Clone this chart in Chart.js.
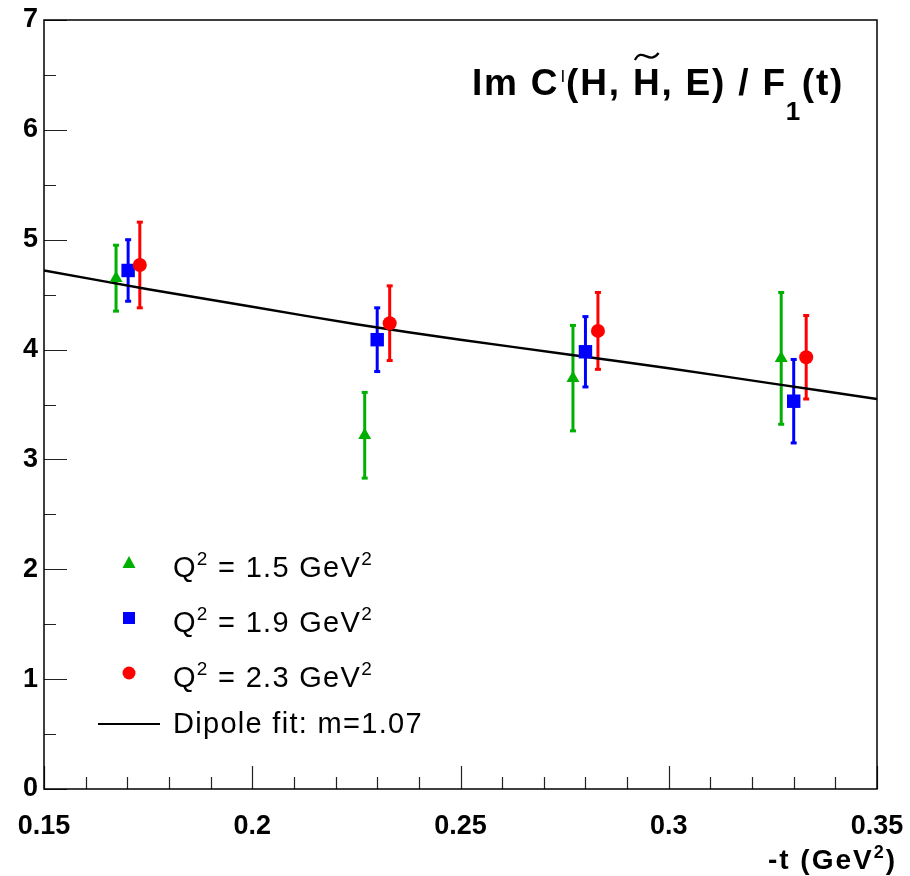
<!DOCTYPE html>
<html>
<head>
<meta charset="utf-8">
<script src="https://cdn.jsdelivr.net/npm/chart.js@4.4.1/dist/chart.umd.min.js"></script>
<style>
html, body { margin: 0; padding: 0; background: #fff; }
#wrap { width: 910px; height: 876px; position: relative; }
</style>
</head>
<body>
<div id="wrap"><canvas id="chart"></canvas></div>
<script>
const xTicks = [0.15, 0.2, 0.25, 0.3, 0.35];
const yTicks = [0, 1, 2, 3, 4, 5, 6, 7];

// Q2 = 1.5 GeV2
const tQ15 = [0.1673, 0.2270, 0.2770, 0.3270];
const vQ15 = [4.65, 3.22, 3.74, 3.92];
const eQ15 = [0.30, 0.39, 0.48, 0.60];
// Q2 = 1.9 GeV2
const tQ19 = [0.1702, 0.2300, 0.2800, 0.3300];
const vQ19 = [4.72, 4.09, 3.98, 3.53];
const eQ19 = [0.28, 0.29, 0.32, 0.38];
// Q2 = 2.3 GeV2
const tQ23 = [0.1730, 0.2330, 0.2830, 0.3330];
const vQ23 = [4.77, 4.24, 4.17, 3.93];
const eQ23 = [0.39, 0.34, 0.35, 0.38];
// dipole fit curve
const tFit = [0.15, 0.175, 0.2, 0.225, 0.25, 0.275, 0.3, 0.325, 0.35];
const vFit = [4.72, 4.55, 4.39, 4.23, 4.09, 3.96, 3.83, 3.69, 3.55];

const GREEN = '#00b000', BLUE = '#0000ff', RED = '#ff0000';
const FONT = '"Liberation Sans", Arial, Helvetica, sans-serif';

function pts(xs, ys, es) {
    return xs.map((x, i) => ({x: x, y: ys[i], e: es ? es[i] : 0}));
}

// draws a list of [text, px, dy, weight] pieces, returns end x
function rich(ctx, x, y, parts, spacing, alignRight) {
    ctx.letterSpacing = (spacing || 0) + 'px';
    let w = 0;
    parts.forEach(p => { ctx.font = (p[3] || 'normal') + ' ' + p[1] + 'px ' + FONT; w += ctx.measureText(p[0]).width; });
    if (alignRight) x -= w;
    ctx.textBaseline = 'alphabetic';
    ctx.textAlign = 'left';
    parts.forEach(p => {
        ctx.font = (p[3] || 'normal') + ' ' + p[1] + 'px ' + FONT;
        ctx.fillText(p[0], x, y + (p[2] || 0));
        x += ctx.measureText(p[0]).width;
    });
    ctx.letterSpacing = '0px';
    return x;
}

const rootStuff = {
    id: 'rootStuff',
    beforeDatasetsDraw(chart) {
        const ctx = chart.ctx, xs = chart.scales.x, ys = chart.scales.y;
        ctx.save();
        // error bars
        chart.data.datasets.forEach(ds => {
            if (!ds.errBars) return;
            ctx.strokeStyle = ds.borderColor;
            ctx.fillStyle = ds.borderColor;
            ctx.lineWidth = 3;
            ds.data.forEach(p => {
                const px = xs.getPixelForValue(p.x);
                const top = ys.getPixelForValue(p.y + p.e);
                const bot = ys.getPixelForValue(p.y - p.e);
                ctx.beginPath();
                ctx.moveTo(px, top);
                ctx.lineTo(px, bot);
                ctx.stroke();
                ctx.fillRect(px - 3, top - 1.5, 6, 3);
                ctx.fillRect(px - 3, bot - 1.5, 6, 3);
            });
        });
        ctx.restore();
    },
    afterDraw(chart) {
        const ctx = chart.ctx, a = chart.chartArea, xs = chart.scales.x, ys = chart.scales.y;
        ctx.save();
        // ticks inside the frame
        ctx.strokeStyle = '#222';
        ctx.lineWidth = 1.2;
        ctx.beginPath();
        for (let k = 0; k <= 20; k++) {
            const px = Math.round(xs.getPixelForValue(0.15 + k * 0.01)) + 0.5;
            const len = (k % 5 === 0) ? 23 : 12;
            ctx.moveTo(px, a.bottom);
            ctx.lineTo(px, a.bottom - len);
        }
        for (let k = 0; k <= 14; k++) {
            const py = Math.round(ys.getPixelForValue(k * 0.5)) + 0.5;
            const len = (k % 2 === 0) ? 23 : 12;
            ctx.moveTo(a.left, py);
            ctx.lineTo(a.left + len, py);
        }
        ctx.stroke();
        // frame
        ctx.strokeStyle = '#000';
        ctx.lineWidth = 1.5;
        ctx.strokeRect(a.left, a.top, a.right - a.left, a.bottom - a.top);

        ctx.fillStyle = '#000';
        // title
        let x = rich(ctx, 472, 95, [['Im C', 37, 0, 'bold']], 1.8);
        x = rich(ctx, x + 1, 95, [['I', 17, -13, 'normal']]);
        x = rich(ctx, x + 1, 95, [['(H, ', 37, 0, 'bold']], 1.8);
        const hx = x;
        x = rich(ctx, x, 95, [['H', 37, 0, 'bold']], 1.8);
        // tilde over the H
        const tw = x - hx - 1.8;
        ctx.strokeStyle = '#000';
        ctx.lineWidth = 2.2;
        ctx.beginPath();
        ctx.moveTo(hx + 2, 60);
        ctx.bezierCurveTo(hx + tw * 0.35, 46, hx + tw * 0.6, 66, hx + tw - 1, 53);
        ctx.stroke();
        x = rich(ctx, x, 95, [[', E) / F', 37, 0, 'bold']], 1.8);
        rich(ctx, x - 1, 95, [['1', 26, 25, 'bold']]);
        rich(ctx, x + 15, 95, [['(t)', 37, 0, 'bold']], 1.8);

        // x axis title
        rich(ctx, 897, 869, [['-t (GeV', 28, 0, 'bold'], ['2', 18, -11, 'bold'], [')', 28, 0, 'bold']], 2, true);

        // legend
        const rows = [
            {y: 577, label: '1.5', color: GREEN, shape: 'tri'},
            {y: 632, label: '1.9', color: BLUE, shape: 'sq'},
            {y: 687, label: '2.3', color: RED, shape: 'circ'}
        ];
        rows.forEach(r => {
            const my = r.y - 14;
            ctx.fillStyle = r.color;
            ctx.beginPath();
            if (r.shape === 'tri') {
                ctx.moveTo(129, my - 7); ctx.lineTo(135.5, my + 5); ctx.lineTo(122.5, my + 5);
            } else if (r.shape === 'sq') {
                ctx.rect(123, my - 6, 12, 12);
            } else {
                ctx.arc(129, my, 6.5, 0, Math.PI * 2);
            }
            ctx.fill();
            ctx.fillStyle = '#000';
            rich(ctx, 173, r.y, [['Q', 29], ['2', 19, -12], [' = ' + r.label + ' GeV', 29], ['2', 19, -12]], 1.3);
        });
        ctx.strokeStyle = '#000';
        ctx.lineWidth = 2;
        ctx.beginPath();
        ctx.moveTo(98, 724);
        ctx.lineTo(160, 724);
        ctx.stroke();
        rich(ctx, 173, 733, [['Dipole fit: m=1.07', 29]], 1.3);
        ctx.restore();
    }
};

new Chart(document.getElementById('chart').getContext('2d'), {
    type: 'scatter',
    data: {
        datasets: [
            {
                label: 'fit',
                data: pts(tFit, vFit),
                showLine: true,
                borderColor: '#000',
                borderWidth: 2.5,
                pointRadius: 0,
                tension: 0.3,
                order: 3
            },
            {
                label: 'Q2 = 1.5 GeV2',
                data: pts(tQ15, vQ15, eQ15),
                errBars: true,
                pointStyle: 'triangle',
                pointRadius: 7.5,
                backgroundColor: GREEN,
                borderColor: GREEN,
                borderWidth: 0,
                order: 2
            },
            {
                label: 'Q2 = 1.9 GeV2',
                data: pts(tQ19, vQ19, eQ19),
                errBars: true,
                pointStyle: 'rect',
                pointRadius: 9.5,
                backgroundColor: BLUE,
                borderColor: BLUE,
                borderWidth: 0,
                order: 1
            },
            {
                label: 'Q2 = 2.3 GeV2',
                data: pts(tQ23, vQ23, eQ23),
                errBars: true,
                pointStyle: 'circle',
                pointRadius: 7,
                backgroundColor: RED,
                borderColor: RED,
                borderWidth: 0,
                order: 0
            }
        ]
    },
    options: {
        responsive: true,
        maintainAspectRatio: false,
        animation: false,
        layout: {padding: {top: 20, right: 33, left: 0, bottom: 0}},
        plugins: {legend: {display: false}, tooltip: {enabled: false}},
        scales: {
            x: {
                type: 'linear',
                min: 0.15,
                max: 0.35,
                afterBuildTicks: s => { s.ticks = xTicks.map(v => ({value: v})); },
                afterFit: s => { s.height = 87; s.paddingLeft = 0; s.paddingRight = 0; },
                grid: {display: false, drawTicks: false},
                border: {display: false},
                ticks: {
                    autoSkip: false,
                    maxRotation: 0,
                    padding: 21,
                    color: '#000',
                    font: {family: FONT, size: 27, weight: 'bold'},
                    callback: v => String(+v.toFixed(2))
                }
            },
            y: {
                min: 0,
                max: 7,
                afterBuildTicks: s => { s.ticks = yTicks.map(v => ({value: v})); },
                afterFit: s => { s.width = 44; s.paddingTop = 0; s.paddingBottom = 0; },
                grid: {display: false, drawTicks: false},
                border: {display: false},
                ticks: {
                    padding: 6,
                    color: '#000',
                    font: {family: FONT, size: 27, weight: 'bold'}
                }
            }
        }
    },
    plugins: [rootStuff]
});
</script>
</body>
</html>
